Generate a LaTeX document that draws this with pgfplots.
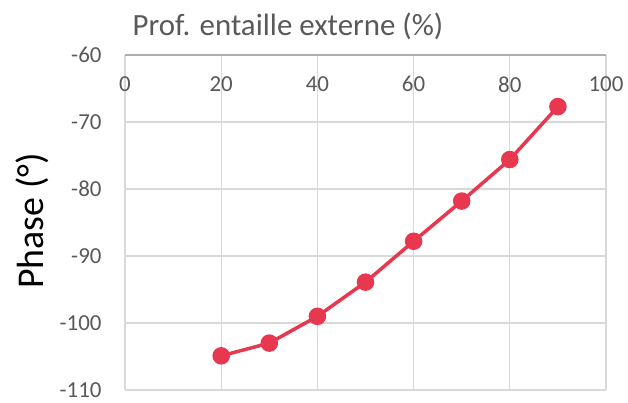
\documentclass[border=0pt]{standalone}
\usepackage{pgfplots}
\pgfplotsset{compat=1.18}
\usepackage{fontspec}
\setmainfont{Carlito}
\definecolor{linered}{HTML}{E8384F}
\definecolor{gridgray}{HTML}{D9D9D9}
\definecolor{ticktext}{HTML}{595959}
\begin{document}
\begin{tikzpicture}[x=1bp,y=1bp]
\useasboundingbox (0,0) rectangle (628,402);
\node[font=\fontsize{31}{36}\selectfont, text=ticktext] at (288,376) {Prof. entaille externe (\%)};
\node[font=\fontsize{38}{44}\selectfont, rotate=90] at (32,181) {Phase (°)};
\begin{axis}[
  at={(125bp,12bp)}, anchor=south west,
  width=481bp, height=335bp, scale only axis,
  xmin=0, xmax=100, ymin=-110, ymax=-60,
  xtick={0,20,...,100}, ytick={-110,-100,...,-60},
  grid=major, major grid style={draw=gridgray, line width=1.3bp},
  axis line style={draw=none},
  major tick length=0pt,
  tick label style={font=\fontsize{23}{27}\selectfont, text=ticktext},
  /pgf/number format/assume math mode=true,
  xticklabel pos=upper,
  xticklabel style={anchor=north, yshift=-18bp},
  yticklabel style={anchor=east, xshift=-20bp},
  clip=false,
]
\draw[draw=gridgray!80!black, line width=1.3bp] (axis cs:0,-60) -- (axis cs:100,-60);
\addplot[color=linered, line width=3.5bp, mark=*, mark size=7bp, mark options={fill=linered, draw=linered}]
coordinates {(20,-104.9) (30,-103.0) (40,-99.0) (50,-93.9) (60,-87.8) (70,-81.8) (80,-75.6) (90,-67.7)};
\end{axis}
\end{tikzpicture}
\end{document}
